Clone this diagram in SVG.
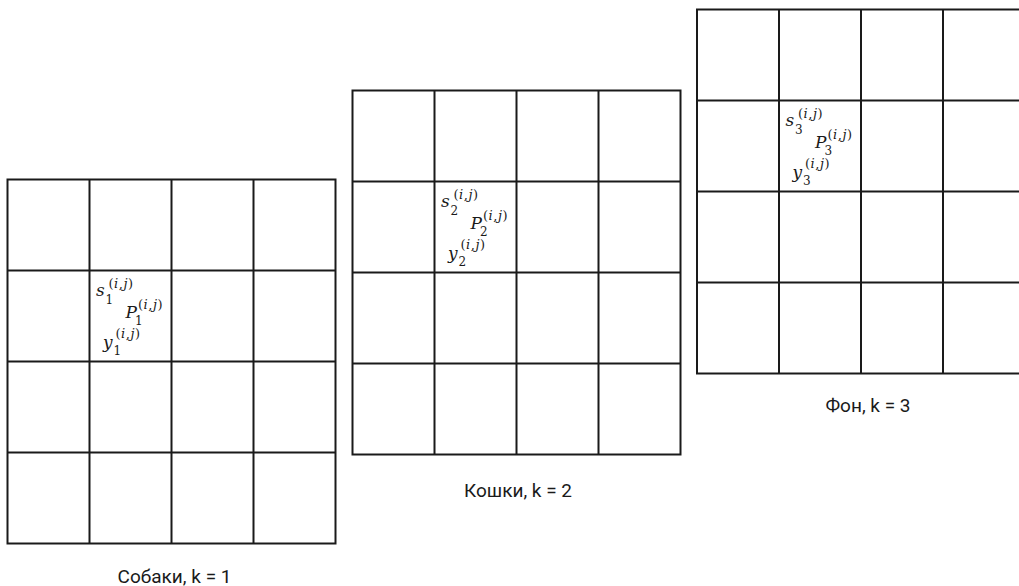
<svg xmlns="http://www.w3.org/2000/svg" width="1019" height="586" viewBox="0 0 1019 586">
<style>
.g{fill:none;stroke:#1a1a1a;stroke-width:2}
.m{font-family:"DejaVu Serif","Liberation Serif",serif;font-style:italic;font-size:17px;fill:#1a1a1a}
.sb{font-family:"DejaVu Serif","Liberation Serif",serif;font-size:12px;fill:#1a1a1a}
.sp{font-family:"DejaVu Serif","Liberation Serif",serif;font-size:13px;letter-spacing:0.5px;fill:#1a1a1a}
.sp .it{font-style:italic}
.cap{font-family:Roboto,"Liberation Sans",sans-serif;font-size:19px;fill:#1a1a1a;text-anchor:middle}
</style>
<defs>
<g id="grid">
<rect class="g" x="0" y="0" width="328" height="364"/>
<line class="g" x1="82" y1="0" x2="82" y2="364"/>
<line class="g" x1="164" y1="0" x2="164" y2="364"/>
<line class="g" x1="246" y1="0" x2="246" y2="364"/>
<line class="g" x1="0" y1="91" x2="328" y2="91"/>
<line class="g" x1="0" y1="182" x2="328" y2="182"/>
<line class="g" x1="0" y1="273" x2="328" y2="273"/>
</g>
<g id="lbl">
</g>
</defs>
<g id="grid1">
<use href="#grid" x="7.5" y="179.5"/>
<g transform="translate(89.5,270.5)">
<text class="m" x="6.5" y="25.5">s</text><text class="sb" x="16" y="33">1</text><text class="sp" x="19" y="17">(<tspan class="it">i</tspan>,<tspan class="it">j</tspan>)</text>
<text class="m" x="36" y="47.5">P</text><text class="sb" x="45.5" y="54.5">1</text><text class="sp" x="48.5" y="38.5">(<tspan class="it">i</tspan>,<tspan class="it">j</tspan>)</text>
<text class="m" x="13.5" y="77.5">y</text><text class="sb" x="24" y="84.5">1</text><text class="sp" x="26" y="67.5">(<tspan class="it">i</tspan>,<tspan class="it">j</tspan>)</text>
</g>
<text class="cap" x="174.5" y="582.5">Собаки, k = 1</text>
</g>
<g id="grid2">
<use href="#grid" x="352.5" y="90.5"/>
<g transform="translate(434.5,181.5)">
<text class="m" x="6.5" y="25.5">s</text><text class="sb" x="16" y="33">2</text><text class="sp" x="19" y="17">(<tspan class="it">i</tspan>,<tspan class="it">j</tspan>)</text>
<text class="m" x="36" y="47.5">P</text><text class="sb" x="45.5" y="54.5">2</text><text class="sp" x="48.5" y="38.5">(<tspan class="it">i</tspan>,<tspan class="it">j</tspan>)</text>
<text class="m" x="13.5" y="77.5">y</text><text class="sb" x="24" y="84.5">2</text><text class="sp" x="26" y="67.5">(<tspan class="it">i</tspan>,<tspan class="it">j</tspan>)</text>
</g>
<text class="cap" x="518" y="496.5">Кошки, k = 2</text>
</g>
<g id="grid3">
<use href="#grid" x="697" y="9.5"/>
<g transform="translate(779,100.5)">
<text class="m" x="6.5" y="25.5">s</text><text class="sb" x="16" y="33">3</text><text class="sp" x="19" y="17">(<tspan class="it">i</tspan>,<tspan class="it">j</tspan>)</text>
<text class="m" x="36" y="47.5">P</text><text class="sb" x="45.5" y="54.5">3</text><text class="sp" x="48.5" y="38.5">(<tspan class="it">i</tspan>,<tspan class="it">j</tspan>)</text>
<text class="m" x="13.5" y="77.5">y</text><text class="sb" x="24" y="84.5">3</text><text class="sp" x="26" y="67.5">(<tspan class="it">i</tspan>,<tspan class="it">j</tspan>)</text>
</g>
<text class="cap" x="868" y="411.5">Фон, k = 3</text>
</g>
<g id="connectors"/>
</svg>
